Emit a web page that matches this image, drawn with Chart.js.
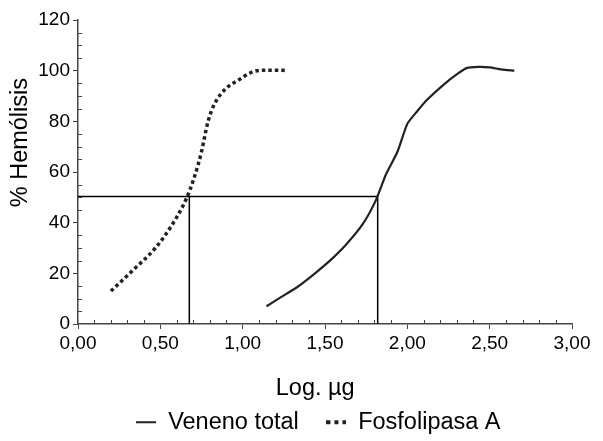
<!DOCTYPE html>
<html>
<head>
<meta charset="utf-8">
<script src="https://cdn.jsdelivr.net/npm/chart.js@4/dist/chart.umd.min.js"></script>
<style>
  html, body { margin: 0; padding: 0; background: #fff; }
  #wrap { width: 603px; height: 441px; }
</style>
</head>
<body>
<div id="wrap"><canvas id="hemolisisChart" width="603" height="441"></canvas></div>
<script>
// Veneno total (solid)
const venenoX = [1.145, 1.23, 1.33, 1.43, 1.53, 1.63, 1.73, 1.81, 1.87, 1.94, 2.0, 2.06, 2.12, 2.23, 2.31, 2.36, 2.43, 2.5, 2.57, 2.65];
const venenoY = [7, 10.5, 14.5, 19.5, 25, 31.5, 39.5, 49, 59, 68, 79, 84, 88.5, 95, 99, 101, 101.5, 101.3, 100.5, 100];

// Fosfolipasa A (dotted)
const fosfoX = [0.2, 0.33, 0.47, 0.56, 0.64, 0.68, 0.73, 0.75, 0.79, 0.83, 0.9, 0.98, 1.06, 1.13, 1.27];
const fosfoY = [13, 21, 30, 38, 47, 53, 63, 68, 80, 87, 93, 96.5, 99.5, 100.2, 100.1];

// 50 % reference lines
const halfY = 50.3;
const fosfoHalfX = 0.676;
const venenoHalfX = 1.82;

const xTicks = [0, 0.5, 1.0, 1.5, 2.0, 2.5, 3.0];
const yTicks = [0, 20, 40, 60, 80, 100, 120];

const toPoints = (xs, ys) => xs.map((x, i) => ({ x: x, y: ys[i] }));

const FONT = "'Liberation Sans', Arial, sans-serif";
const INK = '#222';
const NB = '\u00a0';

// minor tick marks, drawn inside the plot like the original
const minorTicks = {
    id: 'minorTicks',
    afterDraw(chart) {
        const { ctx, chartArea, scales } = chart;
        ctx.save();
        ctx.strokeStyle = '#444';
        ctx.lineWidth = 1;
        for (let i = 1; i < 30; i++) {
            if (i % 5 === 0) continue;
            const px = Math.round(scales.x.getPixelForValue(i / 10)) + 0.5;
            ctx.beginPath();
            ctx.moveTo(px, chartArea.bottom);
            ctx.lineTo(px, chartArea.bottom - 4);
            ctx.stroke();
        }
        for (let v = 5; v < 120; v += 5) {
            if (v % 20 === 0) continue;
            const py = Math.round(scales.y.getPixelForValue(v)) + 0.5;
            ctx.beginPath();
            ctx.moveTo(chartArea.left, py);
            ctx.lineTo(chartArea.left + 4, py);
            ctx.stroke();
        }
        ctx.restore();
    }
};

// little legend samples: a solid dash and three square dots
function legendSample(dotted) {
    const c = document.createElement('canvas');
    c.width = 20;
    c.height = 6;
    const g = c.getContext('2d');
    g.fillStyle = INK;
    if (dotted) {
        [0, 8, 16].forEach(x => g.fillRect(x, 1, 4, 4));
    } else {
        g.fillRect(0, 2, 20, 2);
    }
    return c;
}
const sampleSolid = legendSample(false);
const sampleDotted = legendSample(true);

const refLine = (pts) => ({
    label: '',
    data: pts,
    borderColor: '#000',
    borderWidth: 1.5,
    pointRadius: 0,
    tension: 0,
    fill: false
});

const ctx = document.getElementById('hemolisisChart').getContext('2d');
new Chart(ctx, {
    type: 'line',
    data: {
        datasets: [
            {
                label: 'Veneno total',
                data: toPoints(venenoX, venenoY),
                borderColor: INK,
                borderWidth: 2.2,
                pointRadius: 0,
                tension: 0.2,
                fill: false
            },
            {
                label: 'Fosfolipasa A',
                data: toPoints(fosfoX, fosfoY),
                borderColor: INK,
                borderWidth: 3.5,
                borderDash: [3.5, 3],
                borderCapStyle: 'butt',
                pointRadius: 0,
                cubicInterpolationMode: 'monotone',
                fill: false
            },
            refLine([{ x: 0, y: halfY }, { x: venenoHalfX, y: halfY }]),
            refLine([{ x: fosfoHalfX, y: 0 }, { x: fosfoHalfX, y: halfY }]),
            refLine([{ x: venenoHalfX, y: 0 }, { x: venenoHalfX, y: halfY }])
        ]
    },
    options: {
        responsive: false,
        animation: false,
        layout: { padding: { left: 4, right: 31, top: 20, bottom: -3 } },
        plugins: {
            tooltip: { enabled: false },
            legend: {
                position: 'bottom',
                fullSize: false,
                labels: {
                    usePointStyle: true,
                    pointStyleWidth: 20,
                    color: '#000',
                    padding: 8,
                    font: { family: FONT, size: 23.5 },
                    generateLabels: chart => [
                        { text: 'Veneno total' + NB + NB + NB, pointStyle: sampleSolid, datasetIndex: 0, fontColor: '#000', hidden: false },
                        { text: 'Fosfolipasa A' + NB + NB, pointStyle: sampleDotted, datasetIndex: 1, fontColor: '#000', hidden: false }
                    ]
                }
            }
        },
        scales: {
            x: {
                type: 'linear',
                min: 0,
                max: 3,
                afterBuildTicks: axis => { axis.ticks = xTicks.map(v => ({ value: v })); },
                afterFit: axis => { axis.height = 78.5; },
                border: { color: '#444', width: 1.5 },
                grid: { drawOnChartArea: false, tickLength: 5, color: '#444' },
                ticks: {
                    color: '#000',
                    font: { family: FONT, size: 19 },
                    maxRotation: 0,
                    padding: 3,
                    callback: v => v.toFixed(2).replace('.', ',')
                },
                title: {
                    display: true,
                    text: 'Log. µg' + NB + NB + NB,
                    color: '#000',
                    font: { family: FONT, size: 23.5 },
                    padding: { top: 0, bottom: 0 }
                }
            },
            y: {
                min: 0,
                max: 120,
                afterBuildTicks: axis => { axis.ticks = yTicks.map(v => ({ value: v })); },
                afterFit: axis => { axis.width = 74; },
                border: { color: '#444', width: 1.5 },
                grid: { drawOnChartArea: false, tickLength: 5, color: '#444' },
                ticks: {
                    color: '#000',
                    font: { family: FONT, size: 19 },
                    padding: 3
                },
                title: {
                    display: true,
                    text: NB.repeat(9) + '% Hemólisis',
                    color: '#000',
                    font: { family: FONT, size: 23.5 },
                    padding: { top: 2, bottom: 0 }
                }
            }
        }
    },
    plugins: [minorTicks]
});
</script>
</body>
</html>
